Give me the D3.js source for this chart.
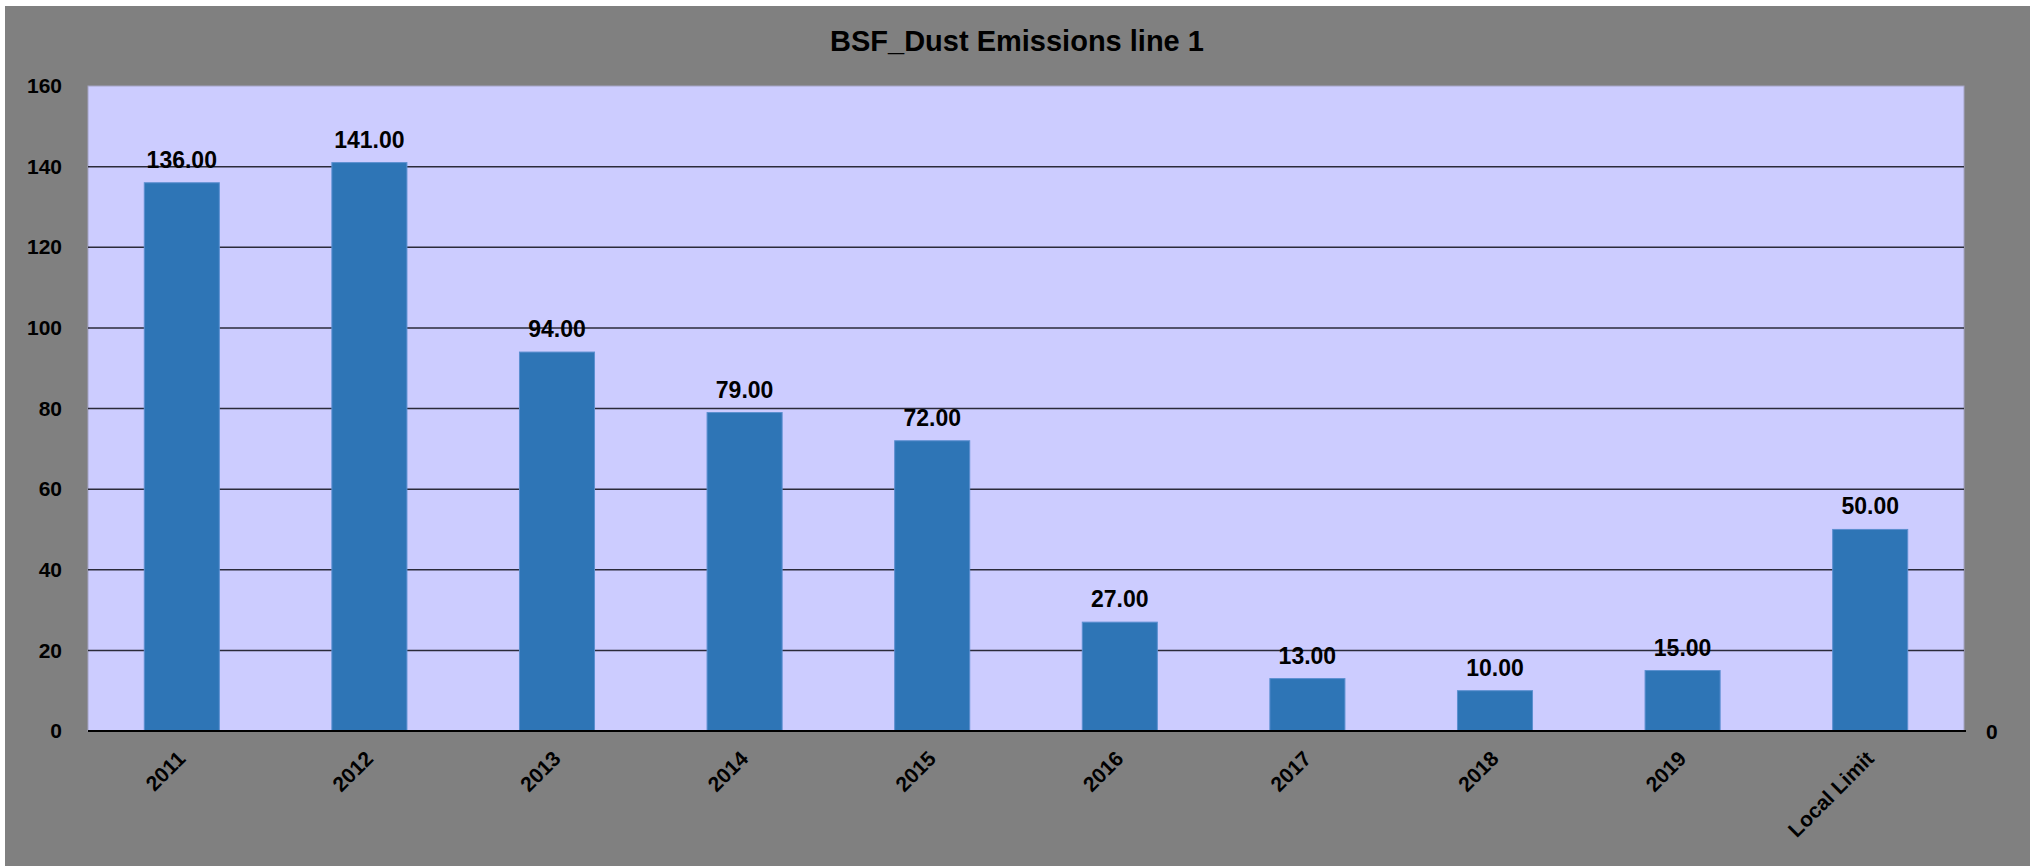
<!DOCTYPE html>
<html>
<head>
<meta charset="utf-8">
<script src="https://cdn.jsdelivr.net/npm/d3@7"></script>
<style>
  html, body { margin: 0; padding: 0; background: #fff; }
  svg { display: block; font-family: "Liberation Sans", Arial, sans-serif; }
</style>
</head>
<body>
<svg id="chart"></svg>
<script>
// chart data
const categories = ['2011', '2012', '2013', '2014', '2015', '2016', '2017', '2018', '2019', 'Local Limit']
const emissions = [136, 141, 94, 79, 72, 27, 13, 10, 15, 50]
const yTicks = [0, 20, 40, 60, 80, 100, 120, 140, 160]
const title = 'BSF_Dust Emissions line 1'

const w = 2030
const h = 866
const plot = { left: 88, top: 86, right: 1964, bottom: 731 }

const svg = d3.select('#chart')
  .attr('width', w)
  .attr('height', h)

// grey chart background, a thin white strip is left on top and left
svg.append('rect')
  .attr('x', 5).attr('y', 6)
  .attr('width', w - 5).attr('height', h - 6)
  .attr('fill', '#808080')

const x = d3.scaleBand()
  .domain(categories)
  .range([plot.left, plot.right])
  .paddingInner(0.6)
  .paddingOuter(0.3)

const y = d3.scaleLinear()
  .domain([0, 160])
  .range([plot.bottom, plot.top])

// plot area
svg.append('rect')
  .attr('x', plot.left).attr('y', plot.top)
  .attr('width', plot.right - plot.left)
  .attr('height', plot.bottom - plot.top)
  .attr('fill', '#ccccff')
  .attr('stroke', '#a4a4c4')
  .attr('stroke-width', 1)

// gridlines
svg.append('g')
  .selectAll('line')
  .data(yTicks.filter(t => t > 0 && t < 160))
  .enter()
  .append('line')
  .attr('x1', plot.left).attr('x2', plot.right)
  .attr('y1', t => y(t)).attr('y2', t => y(t))
  .attr('stroke', '#2a2a3a')
  .attr('stroke-width', 1.5)

// bars
svg.append('g')
  .selectAll('rect')
  .data(emissions)
  .enter()
  .append('rect')
  .attr('x', (d, i) => x(categories[i]))
  .attr('y', d => y(d))
  .attr('width', x.bandwidth())
  .attr('height', d => y(0) - y(d))
  .attr('fill', '#2e75b6')
  .attr('stroke', '#5b8fd0')
  .attr('stroke-width', 1)

// value labels
svg.append('g')
  .selectAll('text')
  .data(emissions)
  .enter()
  .append('text')
  .text(d => d.toFixed(2))
  .attr('x', (d, i) => x(categories[i]) + x.bandwidth() / 2)
  .attr('y', d => y(d) - 15)
  .attr('text-anchor', 'middle')
  .style('font-size', '23px')
  .style('font-weight', 'bold')
  .attr('fill', '#000')

// zero axis line
svg.append('line')
  .attr('x1', plot.left).attr('x2', plot.right + 2)
  .attr('y1', y(0)).attr('y2', y(0))
  .attr('stroke', '#000')
  .attr('stroke-width', 2)

// left axis labels
const yAxis = d3.axisLeft(y)
  .tickValues(yTicks)
  .tickSize(0)
  .tickPadding(26)
  .tickFormat(d3.format('d'))

svg.append('g')
  .attr('transform', `translate(${plot.left},0)`)
  .call(yAxis)
  .call(g => g.select('.domain').remove())
  .call(g => g.selectAll('text')
    .style('font-size', '21px')
    .style('font-weight', 'bold')
    .style('font-family', '"Liberation Sans", Arial, sans-serif')
    .attr('fill', '#000'))

// lone secondary axis label
svg.append('text')
  .text('0')
  .attr('x', plot.right + 22)
  .attr('y', y(0))
  .attr('dy', '0.36em')
  .style('font-size', '21px')
  .style('font-weight', 'bold')
  .attr('fill', '#000')

// rotated category labels
const xAxis = d3.axisBottom(x).tickSize(0).tickPadding(0)

svg.append('g')
  .attr('transform', `translate(0,${plot.bottom})`)
  .call(xAxis)
  .call(g => g.select('.domain').remove())
  .call(g => g.selectAll('text')
    .attr('y', 0)
    .attr('dy', 0)
    .attr('text-anchor', 'end')
    .attr('transform', 'translate(5,29) rotate(-45)')
    .style('font-size', '21px')
    .style('font-weight', 'bold')
    .style('font-family', '"Liberation Sans", Arial, sans-serif')
    .attr('fill', '#000'))

// title
svg.append('text')
  .text(title)
  .attr('x', 1017)
  .attr('y', 51)
  .attr('text-anchor', 'middle')
  .style('font-size', '29px')
  .style('font-weight', 'bold')
  .attr('fill', '#000')
</script>
</body>
</html>
